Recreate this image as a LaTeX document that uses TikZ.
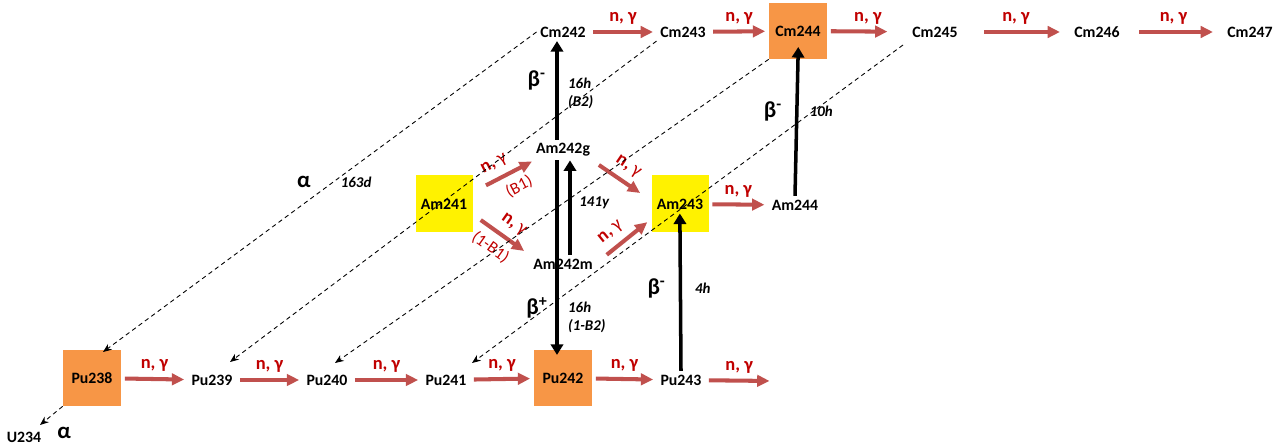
\documentclass[tikz,border=0pt]{standalone}
\usepackage{fontspec}
\setmainfont{Carlito}
\usepackage{xcolor}
\usepackage{tikz}
\usetikzlibrary{arrows.meta}
\usetikzlibrary{positioning}
\definecolor{pumpkin}{RGB}{247,150,70}
\definecolor{brick}{RGB}{192,80,77}
\definecolor{darkred}{RGB}{192,0,0}

\begin{document}
\begin{tikzpicture}[x=0.02cm,y=-0.02cm]
\tikzset{
    nuclide/.style   = {font=\fontsize{9}{10}\selectfont\bfseries, inner sep=2pt},
    hotbox/.style    = {nuclide, minimum width=1.16cm, minimum height=1.12cm, fill=pumpkin},
    feedbox/.style   = {nuclide, minimum width=1.14cm, minimum height=1.14cm, fill=yellow},
    capture/.style   = {draw=brick, line width=2.3pt, -{Triangle[length=7pt,width=6.5pt]}, shorten >=2pt, shorten <=2pt},
    ng/.style        = {font=\fontsize{10.5}{12}\selectfont\bfseries, text=darkred, inner sep=1pt},
    ngsub/.style     = {font=\fontsize{9.5}{11}\selectfont, text=darkred, inner sep=1pt},
    betadecay/.style = {draw=black, line width=2pt, -{Triangle[length=6pt,width=7pt]}},
    betasign/.style  = {font=\fontsize{13}{14}\selectfont\bfseries},
    halflife/.style  = {font=\fontsize{8.5}{10}\selectfont\bfseries\itshape, align=left},
    alphadecay/.style = {draw=black, line width=0.5pt, dash pattern=on 2.5pt off 2pt, -{Stealth[length=5pt,width=4pt]}}
}
\useasboundingbox (0,0) rectangle (1281,448);

% plutonium row
\node [hotbox]  (Pu238) at (92,378)  {Pu238};
\node [nuclide] (Pu239) at (212,380) {Pu239};
\node [nuclide] (Pu240) at (327,380) {Pu240};
\node [nuclide] (Pu241) at (446,380) {Pu241};
\node [hotbox]  (Pu242) at (563,378) {Pu242};
\node [nuclide] (Pu243) at (681,380) {Pu243};
\coordinate (PuEnd) at (773,381);
\node [nuclide] (U234) at (24,437) {U234};

% americium
\node [feedbox] (Am241)  at (444,204) {Am241};
\node [nuclide] (Am242g) at (563,150) {Am242g};
\node [nuclide] (Am242m) at (563,264) {Am242m};
\node [feedbox] (Am243)  at (680,204) {Am243};
\node [nuclide] (Am244)  at (795,205) {Am244};

% curium row
\node [nuclide] (Cm242) at (563,32)  {Cm242};
\node [nuclide] (Cm243) at (683,32)  {Cm243};
\node [hotbox]  (Cm244) at (798,31)  {Cm244};
\node [nuclide] (Cm245) at (935,32)  {Cm245};
\node [nuclide] (Cm246) at (1097,32) {Cm246};
\node [nuclide] (Cm247) at (1250,32) {Cm247};

% neutron capture
\draw [capture] (Pu238) -- node [ng, above=2pt] {n, γ} (Pu239);
\draw [capture] (Pu239) -- node [ng, above=2pt] {n, γ} (Pu240);
\draw [capture] (Pu240) -- node [ng, above=2pt] {n, γ} (Pu241);
\draw [capture] (Pu241) -- node [ng, above=2pt] {n, γ} (Pu242);
\draw [capture] (Pu242) -- node [ng, above=2pt] {n, γ} (Pu243);
\draw [capture] (Pu243) -- node [ng, above=2pt] {n, γ} (PuEnd);
\draw [capture] (Am243) -- node [ng, above=2pt] {n, γ} (Am244);
\draw [capture] (Cm242) -- node [ng, above=2pt] {n, γ} (Cm243);
\draw [capture] (Cm243) -- node [ng, above=2pt] {n, γ} (Cm244);
\draw [capture, shorten >=12pt] (Cm244) -- node [ng, above=2pt] {n, γ} (Cm245);
\draw [capture, shorten <=13pt, shorten >=6pt] (Cm245) -- node [ng, above=2pt] {n, γ} (Cm246);
\draw [capture, shorten <=9pt, shorten >=6pt] (Cm246) -- node [ng, above=2pt] {n, γ} (Cm247);

\draw [capture] ([shift={(10,-17)}]Am241.east) -- node [ng, sloped, above=3pt, pos=0.35] {n, \textmd{γ}} node [ngsub, sloped, below=3pt, pos=0.55] {(B1)} ([shift={(-28,10)}]Am242g.center);
\draw [capture] ([shift={(5,14)}]Am241.east) -- node [ng, sloped, above=3pt, pos=0.55] {n, \textmd{γ}} node [ngsub, sloped, below=3pt, pos=0.45] {(1-B1)} ([shift={(-36,-11)}]Am242m.center);
\draw [capture] ([shift={(33,13)}]Am242g.center) -- node [ng, sloped, above=3pt] {n, \textmd{γ}} ([shift={(-37,-9)}]Am243.center);
\draw [capture] ([shift={(41,-7)}]Am242m.center) -- node [ng, sloped, above=3pt, pos=0.35] {n, \textmd{γ}} ([shift={(-30,16)}]Am243.center);

% beta decays
\draw [betadecay] ([shift={(-6,0)}]Am242g.north) -- node [pos=0.6, betasign, left=2pt] {β\textsuperscript{-}} node [pos=0.47, halflife, right=2pt] {16h\\(B2)} ([shift={(-6,0)}]Cm242.south);
\draw [betadecay, shorten >=-3pt] ([shift={(-6,0)}]Am242g.south) -- node [pos=0.78, betasign, left=1pt] {β\textsuperscript{+}} node [pos=0.83, halflife, right=2pt] {16h\\(1-B2)} ([shift={(-6,0)}]Pu242.north);
\draw [betadecay] ([shift={(7,0)}]Am242m.north) -- node [pos=0.55, halflife, right=1pt] {141y} ([shift={(7,0)}]Am242g.south);
\draw [betadecay, shorten >=-11pt] (Pu243.north) -- node [pos=0.6, betasign, left=4pt] {β\textsuperscript{-}} node [pos=0.6, halflife, right=4pt] {4h} (Am243.south);
\draw [betadecay, shorten >=-7pt] (Am244.north) -- node [pos=0.62, betasign, left=4pt] {β\textsuperscript{-}} node [pos=0.62, halflife, right=3pt] {10h} (Cm244.south);

% alpha decays
\draw [alphadecay] (Cm242.west) -- node [pos=0.47, betasign, left=9pt] {α} node [pos=0.47, halflife, right=1pt] {163d} ([shift={(11,-26)}]Pu238.center);
\draw [alphadecay] (Cm243.south west) -- ([shift={(18,-18)}]Pu239.center);
\draw [alphadecay] (Cm244.south west) -- ([shift={(8,-17)}]Pu240.center);
\draw [alphadecay] ([shift={(-32,13)}]Cm245.center) -- ([shift={(26,-17)}]Pu241.center);
\draw [alphadecay] (Pu238.south west) -- ([shift={(16,-12)}]U234.center);
\node [betasign] (alphaU) at (64,433) {α};
\end{tikzpicture}
\end{document}
